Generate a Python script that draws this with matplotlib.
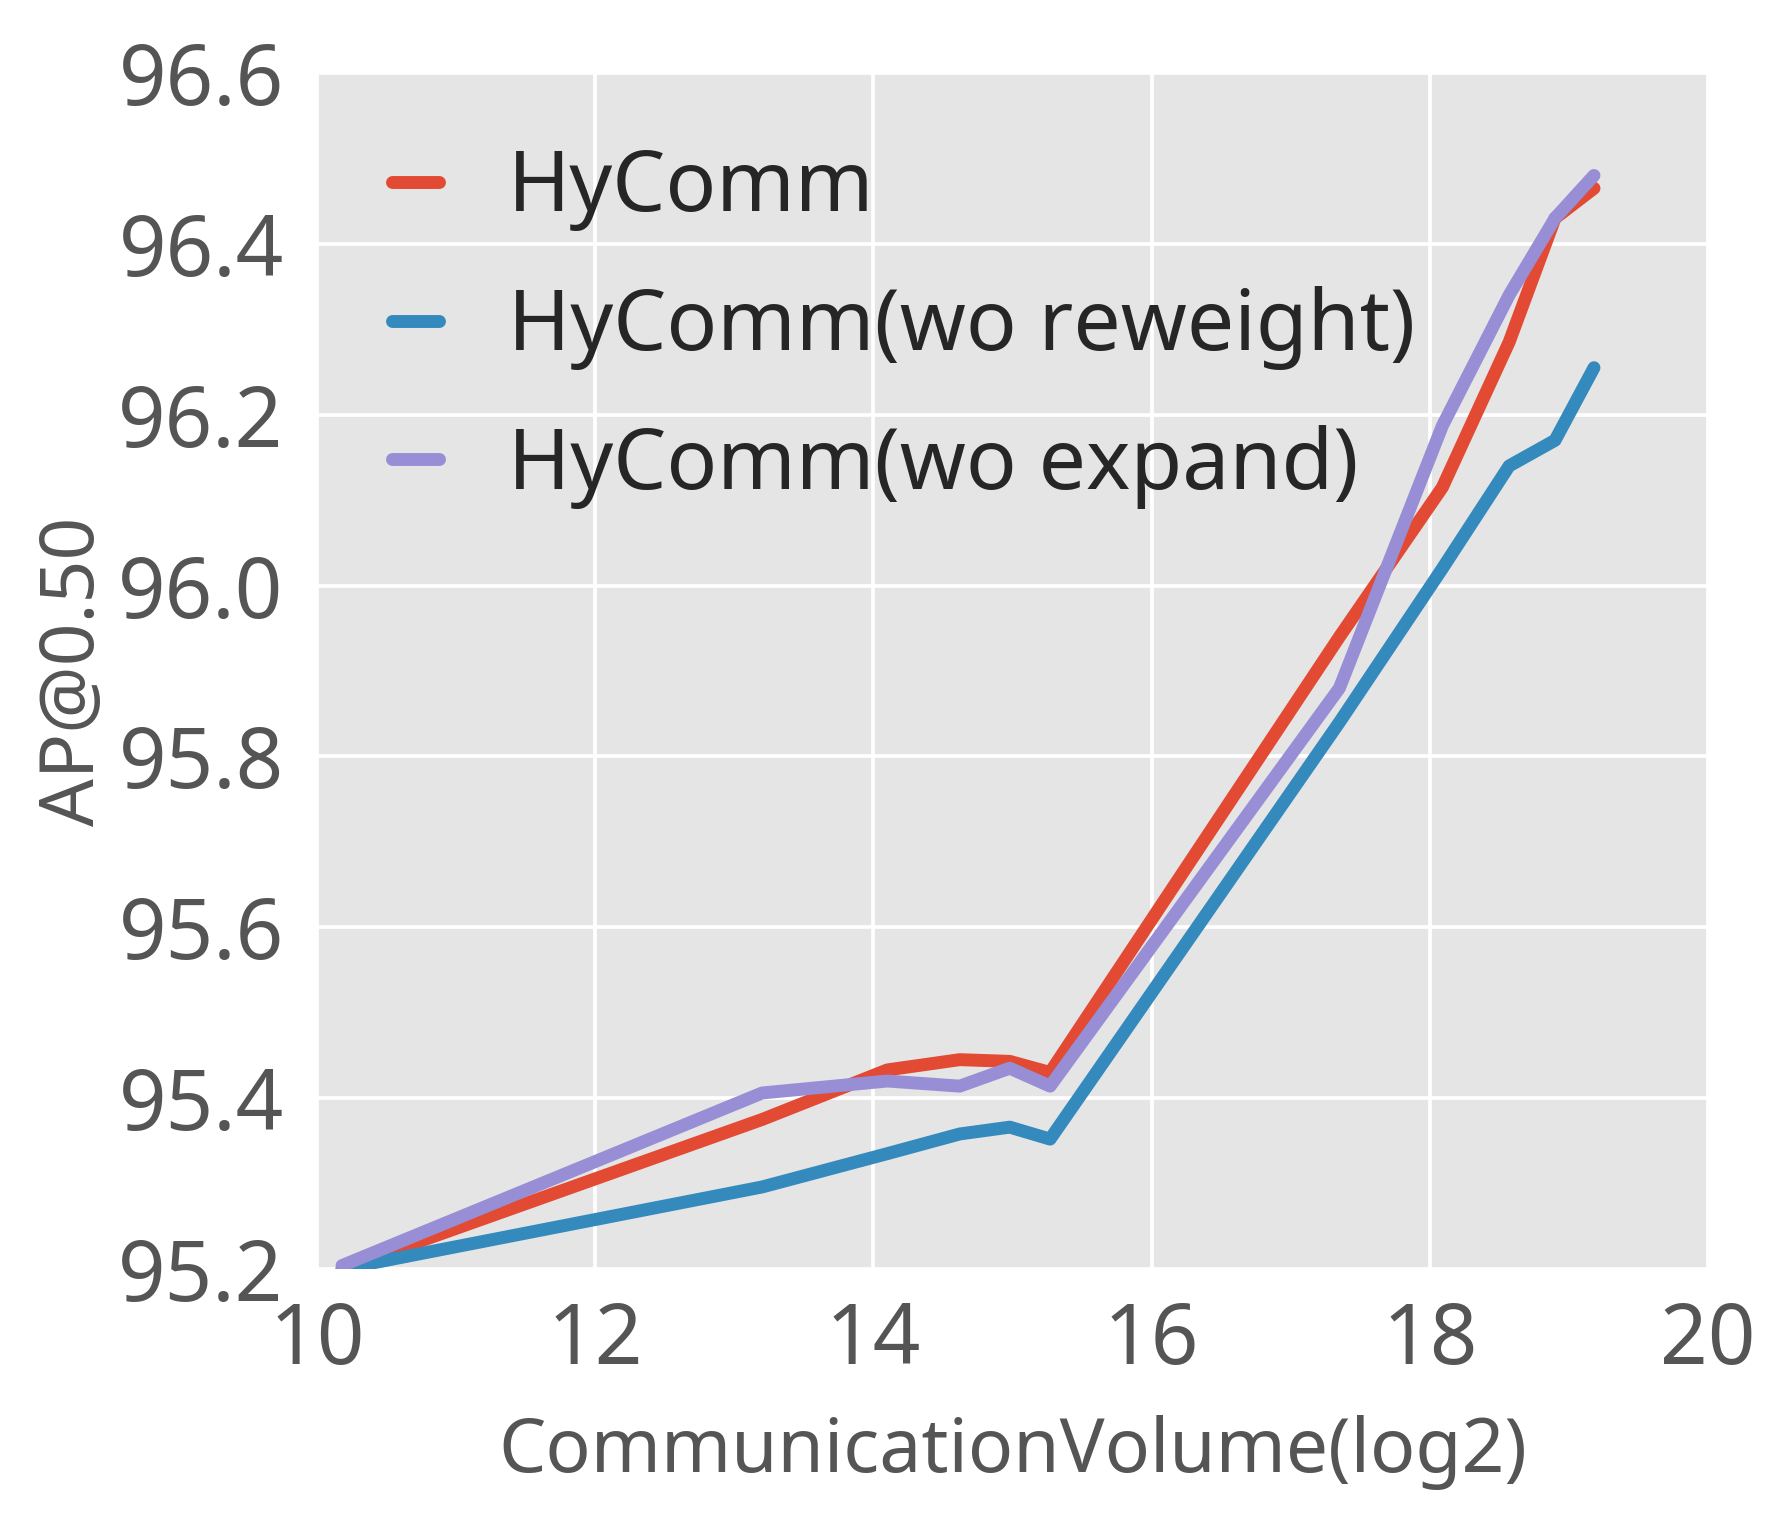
import matplotlib.pyplot as plt

# 通信量 (log2)
comm_volume = [10.18, 13.2, 14.1, 14.62, 14.98, 15.27, 17.35, 18.09, 18.57, 18.9, 19.18]
# AP@0.50
ap_hycomm = [95.2, 95.375, 95.433, 95.445, 95.443, 95.43, 95.94, 96.115, 96.285, 96.43, 96.465]
ap_wo_reweight = [95.2, 95.296, 95.335, 95.358, 95.366, 95.352, 95.84, 96.02, 96.14, 96.17, 96.255]
ap_wo_expand = [95.204, 95.406, 95.42, 95.414, 95.435, 95.414, 95.88, 96.187, 96.34, 96.43, 96.48]

x_ticks = [10, 12, 14, 16, 18, 20]
y_ticks = [95.2, 95.4, 95.6, 95.8, 96.0, 96.2, 96.4, 96.6]

plt.style.use('ggplot')
plt.rcParams['font.family'] = ['Noto Sans', 'DejaVu Sans']
plt.rcParams['lines.solid_capstyle'] = 'round'

fig = plt.figure(figsize=(1785 / 300, 1523 / 300), dpi=300)
ax = fig.add_axes([0.1776, 0.1668, 0.7793, 0.7853])

ax.plot(comm_volume, ap_hycomm, color='#E24A33', lw=3.1, label='HyComm')
ax.plot(comm_volume, ap_wo_reweight, color='#348ABD', lw=3.1, label='HyComm(wo reweight)')
ax.plot(comm_volume, ap_wo_expand, color='#988ED5', lw=3.1, label='HyComm(wo expand)')

ax.set_xlim(10, 20)
ax.set_ylim(95.2, 96.6)
ax.set_xticks(x_ticks)
ax.set_yticks(y_ticks)
ax.set_xticklabels([str(t) for t in x_ticks])
ax.set_yticklabels([f'{t:.1f}' for t in y_ticks])
ax.tick_params(axis='both', length=0, labelsize=20, colors='#555555')
ax.tick_params(axis='x', pad=7.5)
ax.tick_params(axis='y', pad=8)
ax.set_facecolor('#E5E5E5')
ax.grid(True, color='white', lw=0.9)
for s in ax.spines.values():
    s.set_visible(False)

ax.set_xlabel('CommunicationVolume(log2)', fontsize=18, color='#555555', labelpad=7.5)
ax.set_ylabel('AP@0.50', fontsize=18, color='#555555', labelpad=1.5)

leg = ax.legend(loc='upper left', bbox_to_anchor=(0.030, 0.966), borderaxespad=0,
                fontsize=20.2, frameon=False, handlelength=0.55,
                handletextpad=0.82, labelspacing=0.65)
for t in leg.get_texts():
    t.set_color('#262626')

fig.savefig('out.png', dpi=300)
